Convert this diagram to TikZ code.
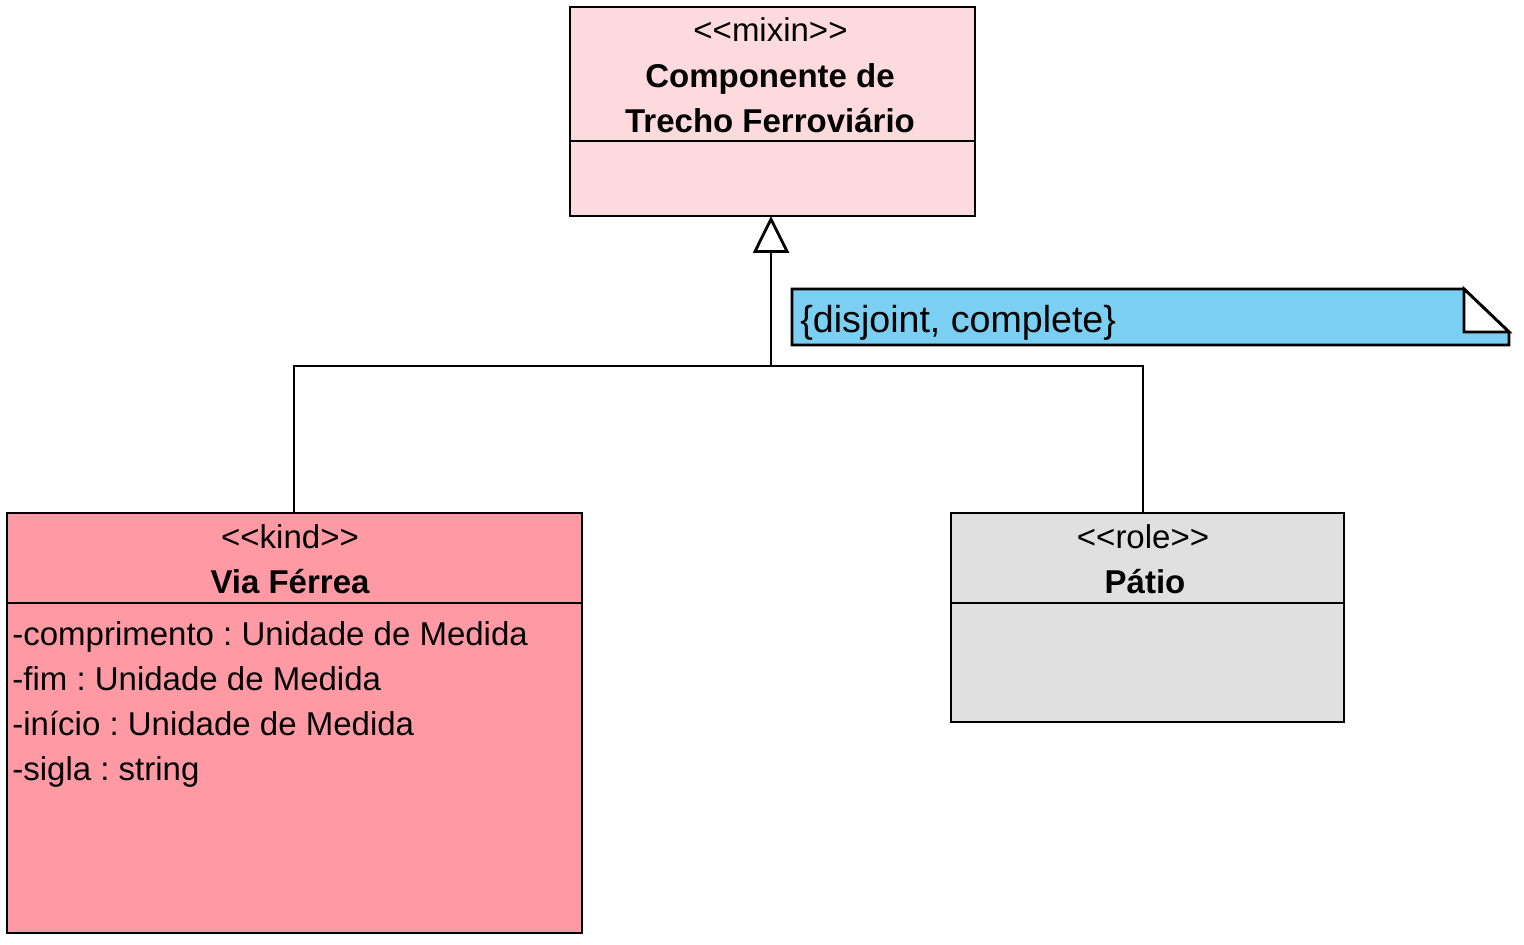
\documentclass[tikz,border=0pt]{standalone}
\usepackage{fontspec}
\setmainfont{Liberation Sans}
\usetikzlibrary{arrows.meta,calc}
\definecolor{mixinpink}{HTML}{FDDADE}
\definecolor{kindpink}{HTML}{FF99A3}
\definecolor{rolegray}{HTML}{E0E0E0}
\definecolor{noteblue}{HTML}{7BCFF3}
\frenchspacing
\begin{document}
\frenchspacing
\begin{tikzpicture}[x=0.5pt,y=-0.5pt,
  umlbox/.style={draw=black,line width=1.4pt,inner sep=0pt,outer sep=0pt},
  txt/.style={inner sep=0pt,anchor=base,font=\fontsize{16.5pt}{19pt}\selectfont},
  btxt/.style={txt,font=\fontsize{16.5pt}{19pt}\selectfont\bfseries},
  attr/.style={txt,anchor=base west},
  conn/.style={draw=black,line width=1.4pt}]
\useasboundingbox (0,0) rectangle (1524,945);
% Mixin
\node[umlbox,fill=mixinpink,minimum width=202.5pt,minimum height=104.5pt] (mixin) at (772.5,111.5) {};
\draw[conn] (570,141) -- (975,141);
\node[txt] (mixinst) at (770.5,42) {<{}<mixin>{}>};
\node[btxt] (mixinn1) at (770,88) {Componente de};
\node[btxt] (mixinn2) at (770,133) {Trecho Ferroviário};
% Via Ferrea
\node[umlbox,fill=kindpink,minimum width=287.5pt,minimum height=210pt] (via) at (294.5,723) {};
\draw[conn] (7,603) -- (582,603);
\node[txt] (viast) at (290,549) {<{}<kind>{}>};
\node[btxt] (vian) at (290,594) {Via Férrea};
\node[attr] (a1) at (12,645) {-comprimento : Unidade de Medida};
\node[attr] (a2) at (12,690) {-fim : Unidade de Medida};
\node[attr] (a3) at (12,735) {-início : Unidade de Medida};
\node[attr] (a4) at (12,780) {-sigla : string};
% Patio
\node[umlbox,fill=rolegray,minimum width=196.5pt,minimum height=104.5pt] (patio) at (1147.5,617.5) {};
\draw[conn] (951,603) -- (1344,603);
\node[txt] (patiost) at (1143,549) {<{}<role>{}>};
\node[btxt] (patian) at (1145,594) {Pátio};
% Note
\draw[line width=1.4pt,fill=noteblue] (792,289) -- (1464,289) -- (1509,332) -- (1509,345) -- (792,345) -- cycle;
\draw[line width=1.4pt,fill=white] (1464,289) -- (1464,332) -- (1509,332) -- cycle;
\node[inner sep=0pt,anchor=base west,font=\fontsize{18.8pt}{22pt}\selectfont] (note) at (800,333) {\{disjoint, complete\}};
% Generalization
\coordinate (junc) at (771,366);
\coordinate (viatop) at (294,513);
\coordinate (patiotop) at (1143,513);
\coordinate (mixbot) at (771,216);
\draw[conn] (viatop) |- (junc) -| (patiotop);
\draw[conn,-{Triangle[open,length=18.5pt,width=18pt,fill=white]}] (junc) -- (mixbot);
\end{tikzpicture}
\end{document}
